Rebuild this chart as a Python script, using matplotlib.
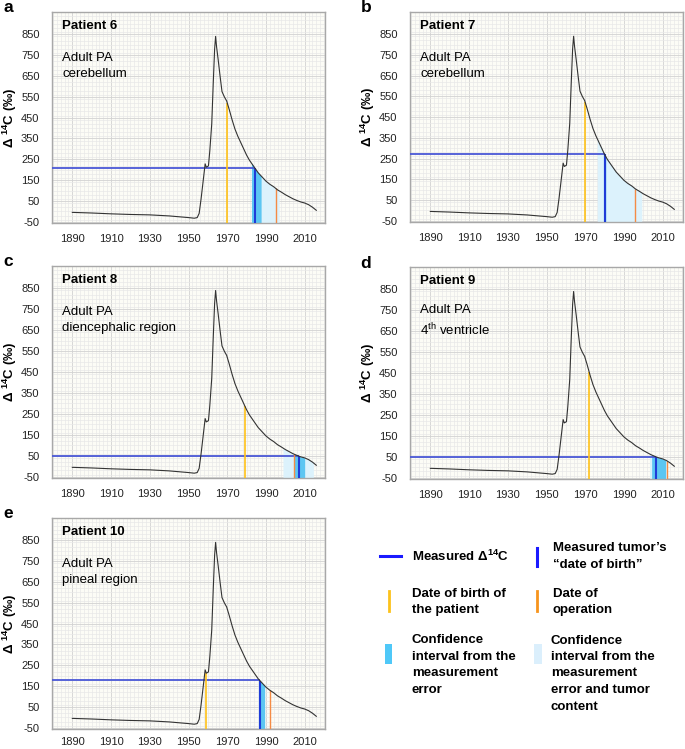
#
# Bomb-pulse 14C dating of five adult pilocytic astrocytomas
#
import numpy as np
import matplotlib.pyplot as plt
from matplotlib.lines import Line2D
from matplotlib.patches import Rectangle
from matplotlib.ticker import MultipleLocator

plt.rcParams['font.family'] = ['Liberation Sans', 'DejaVu Sans']
plt.rcParams['mathtext.fontset'] = 'custom'
plt.rcParams['mathtext.rm'] = 'Liberation Sans'
plt.rcParams['mathtext.bf'] = 'Liberation Sans:bold'
plt.rcParams['axes.unicode_minus'] = False

# atmospheric delta 14C curve
years = [1890, 1900, 1910, 1920, 1930, 1940, 1950, 1953, 1954.5, 1955.5, 1956.5,
         1957.5, 1958.6, 1959.2, 1960.3, 1961.0, 1962.0, 1962.8, 1963.5, 1964.0,
         1964.5, 1965.3, 1966.3, 1967.3, 1968.5, 1969.7, 1971, 1972.5, 1974,
         1975.5, 1977, 1978.5, 1980, 1981.5, 1983, 1984.5, 1986, 1988, 1990,
         1992, 1994, 1996, 1998, 2000, 2002, 2004, 2006, 2008, 2010, 2012,
         2014, 2016]
d14c = [-5, -8, -12, -15, -17, -22, -30, -33, -30, -10, 60,
        140, 228, 212, 218, 290, 420, 620, 780, 840,
        790, 730, 650, 575, 550, 530, 490, 440, 395,
        360, 330, 300, 270, 245, 225, 205, 185, 165, 145,
        130, 118, 103, 92, 80, 70, 60, 52, 45, 40, 32,
        20, 5]

# per patient
letters = ['a', 'b', 'c', 'd', 'e']
patients = ['Patient 6', 'Patient 7', 'Patient 8', 'Patient 9', 'Patient 10']
sites = ['Adult PA\ncerebellum', 'Adult PA\ncerebellum',
         'Adult PA\ndiencephalic region', 'Adult PA\n4$^{\\mathrm{th}}$ ventricle',
         'Adult PA\npineal region']
measured = [209, 273, 47, 50, 178]
tumor_year = [1984.2, 1980.0, 2006.9, 2006.8, 1987.0]
ci_meas = [(1982.5, 1987.5), (1979.4, 1980.6), (2004.5, 2010.0), (2004.3, 2011.5), (1986.3, 1989.3)]
ci_total = [(1982.5, 1996.8), (1976.2, 1999.2), (1998.8, 2014.5), (2003.2, 2012.3), (1986.0, 1989.5)]
birth_year = [1970, 1970, 1979, 1972, 1959.2]
op_year = [1995, 1995.7, 2004.5, 2012, 1992]

# axes boxes in pixels: left, top, right, bottom
W, H = 685, 749
boxes = [(52, 12, 325, 223), (410, 12, 683, 222),
         (52, 266, 325, 478), (410, 267, 683, 479),
         (52, 518, 325, 729)]

XL = (1879.5, 2020.5)
YL = (-56, 957)

c_curve = '#333333'
c_hline = '#4a58d6'
c_tumor = '#1f3bd8'
c_birth = '#ffc21a'
c_op = '#f48b45'
c_ci1 = '#5cc6f2'
c_ci2 = '#dcf2fc'

fig = plt.figure(figsize=(W / 100, H / 100), dpi=100)


def curve_at(x):
    return np.interp(x, years, d14c)


for i in range(5):
    l, t, r, b = boxes[i]
    ax = fig.add_axes([l / W, 1 - b / H, (r - l) / W, (b - t) / H])
    ax.set_facecolor('#fcfcf6')
    ax.set_xlim(XL)
    ax.set_ylim(YL)

    # grid
    ax.set_xticks(np.arange(1890, 2011, 20))
    ax.xaxis.set_minor_locator(MultipleLocator(2))
    ax.set_yticks(np.arange(-50, 851, 100))
    ax.yaxis.set_minor_locator(MultipleLocator(20))
    ax.grid(which='minor', color='#e8e8e8', lw=0.5)
    ax.grid(which='major', color='#d2d2d2', lw=0.6)
    ax.set_axisbelow(True)
    ax.tick_params(which='both', length=0, labelsize=8, colors='#222222')
    ax.tick_params(axis='x', pad=8 if i < 4 else 6)
    ax.tick_params(axis='y', pad=9)
    for s in ax.spines.values():
        s.set_color('#a8a8a8')
        s.set_linewidth(1.0)

    # confidence intervals, filled up to the curve
    xs = np.linspace(ci_total[i][0], ci_total[i][1], 60)
    ax.fill_between(xs, YL[0], curve_at(xs), color=c_ci2, lw=0, zorder=2)
    xs = np.linspace(ci_meas[i][0], ci_meas[i][1], 60)
    ax.fill_between(xs, YL[0], curve_at(xs), color=c_ci1, lw=0, zorder=2)

    # measured value and dates
    ax.hlines(measured[i], XL[0], tumor_year[i], color=c_hline, lw=1.3, zorder=3)
    ax.vlines(birth_year[i], YL[0], curve_at(birth_year[i]), color=c_birth, lw=1.2, zorder=3)
    ax.vlines(op_year[i], YL[0], curve_at(op_year[i]), color=c_op, lw=1.0, zorder=3)
    ax.vlines(tumor_year[i], YL[0], curve_at(tumor_year[i]), color=c_tumor, lw=1.5, zorder=3)

    ax.plot(years, d14c, color=c_curve, lw=0.8, zorder=4)

    ax.text(0.037, 0.934, patients[i], transform=ax.transAxes, fontsize=9.5,
            fontweight='bold', va='center', ha='left')
    ax.text(0.037, 0.745, sites[i], transform=ax.transAxes, fontsize=9.5,
            va='center', ha='left', linespacing=1.45)

    ax.set_ylabel('Δ $^{\\mathbf{14}}$C (‰)', fontsize=9.5, fontweight='bold')
    ax.yaxis.set_label_coords(-33 / (r - l), 0.5)

    fig.text((l - 44) / W, 1 - (t - 4) / H, letters[i], fontsize=12.5,
             fontweight='bold', ha='center', va='center')

# legend drawn in pixel space
lg = fig.add_axes([0, 0, 1, 1])
lg.set_xlim(0, W)
lg.set_ylim(H, 0)
lg.axis('off')
lg.patch.set_alpha(0)

fs = 9.5
ls = 1.5
lg.add_line(Line2D([380, 401], [556, 556], color='#1a1aff', lw=2.2))
lg.text(412, 556, 'Measured Δ$^{\\mathbf{14}}$C', fontsize=fs, fontweight='bold', va='center')

lg.add_line(Line2D([537, 537], [548, 566], color='#1a1aff', lw=2.2))
lg.text(553, 556.5, 'Measured tumor\u2019s\n\u201cdate of birth\u201d', fontsize=fs,
        fontweight='bold', va='center', linespacing=ls)

lg.add_line(Line2D([389, 389], [591, 611], color='#fcc21c', lw=2.0))
lg.text(412, 602, 'Date of birth of\nthe patient', fontsize=fs, fontweight='bold',
        va='center', linespacing=ls)

lg.add_line(Line2D([537, 537], [591, 611], color='#f7941d', lw=2.0))
lg.text(553, 602, 'Date of\noperation', fontsize=fs, fontweight='bold',
        va='center', linespacing=ls)

lg.add_patch(Rectangle((385, 644), 7.5, 20, color='#4fc8f8', lw=0))
lg.text(412, 665, 'Confidence\ninterval from the\nmeasurement\nerror', fontsize=fs,
        fontweight='bold', va='center', linespacing=ls)

lg.add_patch(Rectangle((534.5, 644), 7.5, 20, color='#dbeffc', lw=0))
lg.text(551, 673.5, 'Confidence\ninterval from the\nmeasurement\nerror and tumor\ncontent',
        fontsize=fs, fontweight='bold', va='center', linespacing=ls)

fig.savefig('out.png', dpi=100)
